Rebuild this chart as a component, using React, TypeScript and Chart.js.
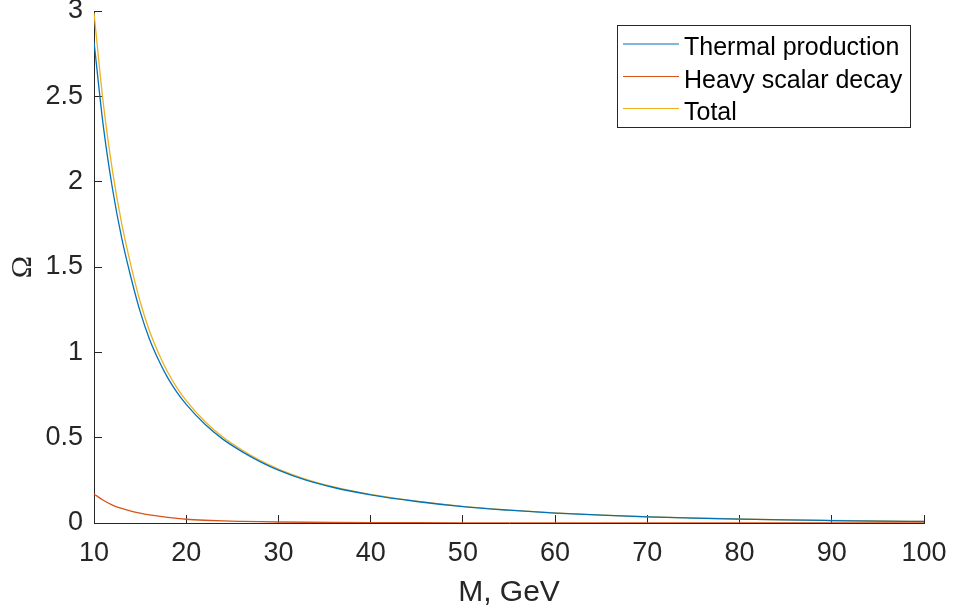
import React, { useEffect, useRef } from "react";
import { Chart, registerables } from "chart.js";

Chart.register(...registerables);

const massGeV = [10, 11, 12, 13, 14, 15, 16, 17, 18, 19, 20, 22, 24, 26, 28, 30, 33, 36, 40, 45, 50, 55, 60, 65, 70, 75, 80, 85, 90, 95, 100];
const thermal = [2.82, 2.33, 1.96, 1.67, 1.44, 1.24, 1.08, 0.955, 0.85, 0.765, 0.695, 0.58, 0.49, 0.42, 0.36, 0.31, 0.251, 0.208, 0.165, 0.126, 0.096, 0.075, 0.058, 0.046, 0.036, 0.029, 0.023, 0.018, 0.0145, 0.0115, 0.009];
const heavyScalar = [0.17, 0.133, 0.105, 0.085, 0.07, 0.058, 0.048, 0.04, 0.033, 0.027, 0.022, 0.016, 0.012, 0.0095, 0.0075, 0.006, 0.0045, 0.0035, 0.0026, 0.0018, 0.0013, 0.001, 0.0008, 0.0006, 0.0005, 0.0004, 0.0003, 0.00025, 0.0002, 0.00018, 0.00015];
const total = [2.99, 2.463, 2.065, 1.755, 1.51, 1.298, 1.128, 0.995, 0.883, 0.792, 0.717, 0.596, 0.502, 0.4295, 0.3675, 0.316, 0.2555, 0.2115, 0.1676, 0.1278, 0.0973, 0.076, 0.0588, 0.0466, 0.0365, 0.0294, 0.0233, 0.01825, 0.0147, 0.01168, 0.00915];

const seriesLabels = ["Thermal production", "Heavy scalar decay", "Total"];
const seriesColors = ["#0072BD", "#D95319", "#EDB120"];

const xTitle = "M, GeV";
const yTitle = "Ω";

const AXIS = "#262626";
const SANS = "'Liberation Sans', Arial, Helvetica, sans-serif";

const legendPlugin = {
  id: "matlabLegend",
  afterDraw(chart: any) {
    const ctx = chart.ctx;
    const x0 = 617, y0 = 25, w = 293, h = 102;
    ctx.save();
    ctx.fillStyle = "#ffffff";
    ctx.fillRect(x0, y0, w, h);
    ctx.strokeStyle = AXIS;
    ctx.lineWidth = 1;
    ctx.strokeRect(x0 + 0.5, y0 + 0.5, w, h);
    const baselines = [55, 87.5, 119.5];
    const lineYs = [44, 76.5, 108.5];
    chart.data.datasets.forEach((ds: any, i: number) => {
      ctx.strokeStyle = ds.borderColor;
      ctx.lineWidth = 1.2;
      ctx.beginPath();
      ctx.moveTo(623, lineYs[i]);
      ctx.lineTo(679, lineYs[i]);
      ctx.stroke();
      ctx.fillStyle = "#000000";
      ctx.font = `25px ${SANS}`;
      ctx.textAlign = "left";
      ctx.textBaseline = "alphabetic";
      ctx.fillText(ds.label, 684, baselines[i]);
    });
    ctx.restore();
  },
};

export default function App() {
  const canvasRef = useRef<HTMLCanvasElement>(null);

  useEffect(() => {
    const canvas = canvasRef.current;
    if (!canvas) return;
    const makeData = (ys: number[]) => massGeV.map((m, i) => ({ x: m, y: ys[i] }));
    const seriesValues = [thermal, heavyScalar, total];
    const chart = new Chart(canvas, {
      type: "line",
      data: {
        datasets: seriesValues.map((vals, i) => ({
          label: seriesLabels[i],
          data: makeData(vals),
          borderColor: seriesColors[i],
          backgroundColor: seriesColors[i],
          borderWidth: 1.3,
          pointRadius: 0,
          cubicInterpolationMode: "monotone" as const,
          fill: false,
        })),
      },
      options: {
        animation: false,
        responsive: false,
        devicePixelRatio: 1,
        layout: { padding: { left: 0, right: 29, top: 11, bottom: 0 } },
        plugins: {
          legend: { display: false },
          tooltip: { enabled: false },
        },
        scales: {
          x: {
            type: "linear",
            min: 10,
            max: 100,
            border: { color: AXIS, width: 1 },
            grid: {
              display: true,
              drawOnChartArea: false,
              drawTicks: true,
              tickLength: -8,
              tickColor: AXIS,
              tickWidth: 1,
            },
            ticks: {
              stepSize: 10,
              color: AXIS,
              padding: 22,
              font: { family: SANS, size: 27 },
              maxRotation: 0,
              callback: (v: any) => String(v),
            },
            title: {
              display: true,
              text: xTitle,
              color: AXIS,
              font: { family: SANS, size: 30, lineHeight: 1 },
              padding: { top: 0, bottom: 2 },
            },
            afterFit: (scale: any) => {
              scale.height = 87;
              scale.paddingLeft = 0;
              scale.paddingRight = 0;
            },
          },
          y: {
            type: "linear",
            min: 0,
            max: 3,
            border: { color: AXIS, width: 1 },
            grid: {
              display: true,
              drawOnChartArea: false,
              drawTicks: true,
              tickLength: -8,
              tickColor: AXIS,
              tickWidth: 1,
            },
            ticks: {
              stepSize: 0.5,
              color: AXIS,
              padding: 19,
              font: { family: SANS, size: 27 },
              callback: (v: any) => String(+v),
            },
            title: {
              display: true,
              text: yTitle,
              color: AXIS,
              font: { family: "'Liberation Serif', 'DejaVu Serif', serif", size: 30, lineHeight: 1.2 },
              padding: { top: 5, bottom: 0 },
            },
            afterFit: (scale: any) => {
              scale.width = 94;
              scale.paddingTop = 0;
              scale.paddingBottom = 0;
            },
          },
        },
      },
      plugins: [legendPlugin],
    });
    return () => chart.destroy();
  }, []);

  return (
    <div style={{ position: "fixed", left: 0, top: 0, width: 953, height: 610, background: "#fff" }}>
      <canvas ref={canvasRef} width={953} height={610} style={{ display: "block", width: 953, height: 610 }} />
    </div>
  );
}
